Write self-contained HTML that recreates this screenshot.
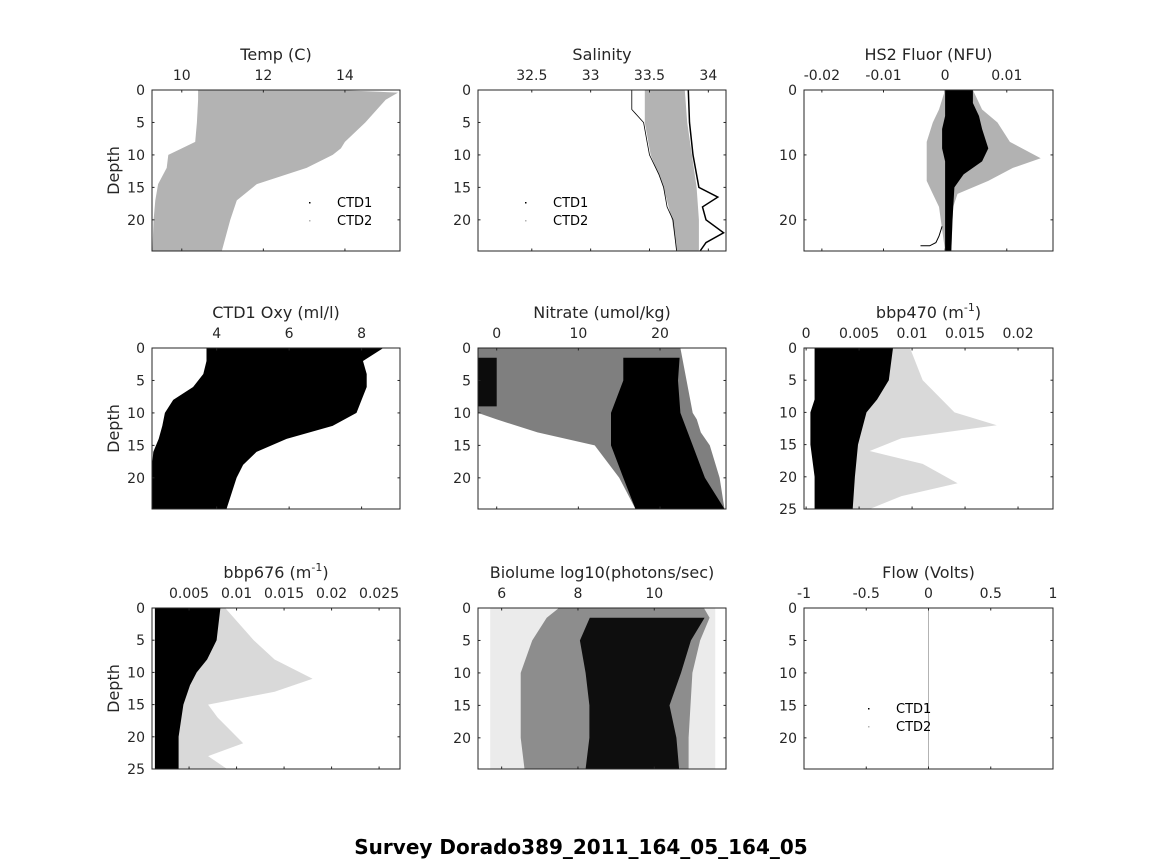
<!DOCTYPE html>
<html><head><meta charset="utf-8">
<style>
html,body{margin:0;padding:0;background:#fff;}
svg{display:block;font-family:"DejaVu Sans","Liberation Sans",sans-serif;}
</style></head>
<body>
<svg id="fig" width="1164" height="864" viewBox="0 0 1164 864" xmlns="http://www.w3.org/2000/svg">
<rect width="1164" height="864" fill="#fff"/>
<text x="581" y="854" text-anchor="middle" font-size="20" font-weight="bold" fill="#000">Survey Dorado389_2011_164_05_164_05</text>
</svg>
<script>
// ---- Data arrays (envelopes: depth, min value, max value) ----
const tempDepth = [0,0.4,1.5,5,8,9,10,12,14.5,17,20,24.8];
const tempMin   = [10.4,10.4,10.4,10.37,10.33,10.0,9.67,9.63,9.42,9.35,9.31,9.28];
const tempMax   = [13.8,15.3,15.0,14.5,14.0,13.9,13.7,13.06,11.84,11.35,11.19,10.98];

const salDepth = [0,5,10,15,20,24.8];
const salMin   = [33.46,33.46,33.51,33.62,33.69,33.73];
const salMax   = [33.80,33.82,33.86,33.90,33.92,33.92];
const salLineDepth = [0,5,10,15,16.5,18,20,22,23.5,24.8];
const salLineVal   = [33.83,33.84,33.87,33.92,34.08,33.95,33.98,34.13,33.98,33.93];
const salLeftDepth = [0,3,5,8,10,13,15,18,20,24.8];
const salLeftVal   = [33.35,33.35,33.45,33.48,33.5,33.58,33.62,33.65,33.7,33.73];

const fluDepth = [0,2,4,6,9,11,13,15,20,24.8];
const fluMin   = [0,0,0,-0.0005,-0.0005,0,0,0,0,0];
const fluMax   = [0.0045,0.0045,0.0055,0.006,0.007,0.006,0.003,0.0015,0.0012,0.001];
const fluSparseDepth = [0,3,5,8,10.5,12,14,16,18,24.8];
const fluSparseMin   = [0,-0.001,-0.002,-0.003,-0.003,-0.003,-0.003,-0.002,-0.001,0];
const fluSparseMax   = [0.0045,0.006,0.0085,0.0105,0.0155,0.011,0.007,0.002,0.0013,0.001];
const fluLineDepth = [21,22.5,23.5,24,24];
const fluLineVal   = [-0.0005,-0.001,-0.0015,-0.0025,-0.004];

const oxyDepth = [0,2,4,6,8,10,12,14,16,18,20,24.8];
const oxyMin   = [3.72,3.72,3.63,3.35,2.8,2.57,2.5,2.4,2.25,2.22,2.22,2.22];
const oxyMax   = [8.6,8.04,8.14,8.14,8.0,7.86,7.2,5.93,5.1,4.73,4.55,4.27];

const nitSparseDepth = [0,10,11,13,15,20,24.8];
const nitSparseMin   = [-2.3,-2.3,0,5,12,15,17];
const nitSparseMax   = [22.5,24,24.5,25,26.1,27.3,27.9];
const nitDepth = [1.5,5,10,15,20,24.8];
const nitMin   = [15.5,15.5,14,14,15.5,17];
const nitMax   = [22.4,22.2,22.5,24,25.5,27.9];
const nitColDepth = [1.5,9];
const nitColMin   = [-2.3,-2.3];
const nitColMax   = [0,0];

const b470Depth = [0,5,8,10,15,20,25];
const b470Min   = [0.0008,0.0008,0.0008,0.0004,0.0004,0.0008,0.0008];
const b470Max   = [0.0082,0.0078,0.0067,0.0057,0.0049,0.0046,0.0044];
const b470SparseDepth = [0,5,10,12,14,16,18,21,23,25];
const b470SparseMax   = [0.0098,0.011,0.014,0.018,0.009,0.006,0.011,0.0143,0.009,0.006];

const b676Depth = [0,5,8,10,12,15,20,25];
const b676Min   = [0.0014,0.0014,0.0014,0.0014,0.0014,0.0014,0.0014,0.0014];
const b676Max   = [0.0083,0.0079,0.0069,0.0058,0.0051,0.0044,0.0039,0.0039];
const b676SparseDepth = [0,5,8,11,13,15,17,21,23,25];
const b676SparseMax   = [0.0088,0.0118,0.014,0.018,0.014,0.007,0.008,0.0107,0.007,0.009];

const bioDepth = [1.5,5,10,15,20,24.8];
const bioMin   = [8.31,8.05,8.2,8.3,8.3,8.2];
const bioMax   = [11.32,10.96,10.7,10.4,10.58,10.65];
const bioSparseDepth = [0,1.5,5,10,20,24.8];
const bioSparseMin   = [7.5,7.18,6.8,6.5,6.5,6.6];
const bioSparseMax   = [11.3,11.45,11.2,11.0,10.9,10.9];
const bioFaintDepth = [0,24.8];
const bioFaintMin   = [5.7,5.7];
const bioFaintMax   = [11.6,11.6];

const flowDepth = [0,24.8];
const flowVal   = [0,0];

// ---- drawing ----
const svg = document.getElementById('fig');
const NS = 'http://www.w3.org/2000/svg';
const C = '#262626';
function mk(tag, attrs, parent){
  const e = document.createElementNS(NS, tag);
  for (const k in attrs) e.setAttribute(k, attrs[k]);
  (parent||svg).appendChild(e);
  return e;
}
function panel(p){
  const g = mk('g', {});
  
  
  const sx = v => p.x0 + (v - p.xmin) / (p.xmax - p.xmin) * (p.x1 - p.x0);
  const sy = d => p.y0 + d / p.ymax * (p.y1 - p.y0);
  p.sx = sx; p.sy = sy; p.g = g;
  return p;
}
function envelope(p, depth, mn, mx, fill, op, nm){
  const pts = [];
  for (let i=0;i<depth.length;i++) pts.push(p.sx(mn[i]).toFixed(1)+','+p.sy(depth[i]).toFixed(1));
  for (let i=depth.length-1;i>=0;i--) pts.push(p.sx(mx[i]).toFixed(1)+','+p.sy(depth[i]).toFixed(1));
  const e = mk('polygon', {points: pts.join(' '), fill: fill, 'fill-opacity': op}, p.g);
  
  
}
function line(p, depth, val, stroke, w, nm){
  const pts = depth.map((d,i)=>p.sx(val[i]).toFixed(1)+','+p.sy(d).toFixed(1));
  const e = mk('polyline', {points: pts.join(' '), fill:'none', stroke: stroke, 'stroke-width': w}, p.g);
  
  
}
function axes(p){
  const g = p.g;
  const box = mk('rect', {x:p.x0, y:p.y0, width:p.x1-p.x0, height:p.y1-p.y0, fill:'none', stroke:C, 'stroke-width':1}, g);
  
  
  p.xticks.forEach((v,i)=>{
    const x = p.sx(v);
    mk('line', {x1:x, x2:x, y1:p.y0, y2:p.y0+2.5, stroke:C}, g);
    mk('line', {x1:x, x2:x, y1:p.y1, y2:p.y1-2.5, stroke:C}, g);
    const t = mk('text', {x:x, y:p.y0-10, 'text-anchor':'middle', 'font-size':14, fill:C}, g);
    t.textContent = p.xlabels[i];
    
    
  });
  p.yticks.forEach(v=>{
    const y = p.sy(v);
    mk('line', {x1:p.x0, x2:p.x0+2.5, y1:y, y2:y, stroke:C}, g);
    mk('line', {x1:p.x1, x2:p.x1-2.5, y1:y, y2:y, stroke:C}, g);
    const t = mk('text', {x:p.x0-7, y:y+5, 'text-anchor':'end', 'font-size':14, fill:C}, g);
    t.textContent = String(v);
    
    
  });
  const t = mk('text', {x:(p.x0+p.x1)/2, y:p.y0-30, 'text-anchor':'middle', 'font-size':16, fill:C}, g);
  if (p.sup){
    t.textContent = p.title;
    const ts = mk('tspan', {'font-size':11, dy:-7}, t); ts.textContent = '-1';
    const te = mk('tspan', {dy:7}, t); te.textContent = ')';
  } else t.textContent = p.title;
  
  
  if (p.depthLabel){
    const cy = (p.y0+p.y1)/2;
    const d = mk('text', {x:0, y:0, 'text-anchor':'middle', 'font-size':16, fill:C, transform:'translate(119,'+cy+') rotate(-90)'}, g);
    d.textContent = 'Depth';
    
    
  }
}
function legend(p, lx, ly){
  const names = ['CTD1','CTD2'];
  const cols = ['#000','#b3b3b3'];
  names.forEach((n,i)=>{
    const y = ly + i*18;
    mk('rect', {x:lx-28, y:y-5, width:1.5, height:1.5, fill:cols[i]}, p.g);
    const t = mk('text', {x:lx, y:y, 'font-size':13, fill:'#000'}, p.g);
    t.textContent = n;
    
    
  });
}
const GR = '#b3b3b3';
const r1 = [90,251], r2 = [348,509], r3 = [608,769];
const c1 = [152,400], c2 = [478,726], c3 = [804,1053];

// Temp
let p = panel({name:'temp', x0:c1[0], x1:c1[1], y0:r1[0], y1:r1[1], xmin:9.27, xmax:15.35, ymax:24.8,
  xticks:[10,12,14], xlabels:['10','12','14'], yticks:[0,5,10,15,20], title:'Temp (C)', depthLabel:true});
envelope(p, tempDepth, tempMin, tempMax, GR, 1, 'temp-ctd2-cloud');
axes(p); legend(p, 337, 207);

// Salinity
p = panel({name:'salinity', x0:c2[0], x1:c2[1], y0:r1[0], y1:r1[1], xmin:32.043, xmax:34.15, ymax:24.8,
  xticks:[32.5,33,33.5,34], xlabels:['32.5','33','33.5','34'], yticks:[0,5,10,15,20], title:'Salinity'});
envelope(p, salDepth, salMin, salMax, GR, 1, 'salinity-ctd2-cloud');
line(p, salLineDepth, salLineVal, '#000', 1.5, 'salinity-ctd1-right-line');
line(p, salLeftDepth, salLeftVal, '#000', 0.8, 'salinity-ctd1-left-line');
axes(p); legend(p, 553, 207);

// HS2 Fluor
p = panel({name:'fluor', x0:c3[0], x1:c3[1], y0:r1[0], y1:r1[1], xmin:-0.0229, xmax:0.0175, ymax:24.8,
  xticks:[-0.02,-0.01,0,0.01], xlabels:['-0.02','-0.01','0','0.01'], yticks:[0,10,20], title:'HS2 Fluor (NFU)'});
envelope(p, fluSparseDepth, fluSparseMin, fluSparseMax, '#000', 0.3, 'fluor-sparse-cloud');
envelope(p, fluDepth, fluMin, fluMax, '#000', 1, 'fluor-dense-cloud');
line(p, fluLineDepth, fluLineVal, '#000', 1, 'fluor-bottom-trace');
axes(p);

// Oxygen
p = panel({name:'oxygen', x0:c1[0], x1:c1[1], y0:r2[0], y1:r2[1], xmin:2.215, xmax:9.06, ymax:24.8,
  xticks:[4,6,8], xlabels:['4','6','8'], yticks:[0,5,10,15,20], title:'CTD1 Oxy (ml/l)', depthLabel:true});
envelope(p, oxyDepth, oxyMin, oxyMax, '#000', 1, 'oxygen-cloud');
axes(p);

// Nitrate
p = panel({name:'nitrate', x0:c2[0], x1:c2[1], y0:r2[0], y1:r2[1], xmin:-2.29, xmax:28.08, ymax:24.8,
  xticks:[0,10,20], xlabels:['0','10','20'], yticks:[0,5,10,15,20], title:'Nitrate (umol/kg)'});
envelope(p, nitSparseDepth, nitSparseMin, nitSparseMax, '#000', 0.5, 'nitrate-sparse-cloud');
envelope(p, nitDepth, nitMin, nitMax, '#000', 1, 'nitrate-dense-cloud');
envelope(p, nitColDepth, nitColMin, nitColMax, '#000', 0.9, 'nitrate-left-column');
axes(p);

// bbp470
p = panel({name:'bbp470', x0:c3[0], x1:c3[1], y0:r2[0], y1:r2[1], xmin:-0.0002, xmax:0.0233, ymax:25,
  xticks:[0,0.005,0.01,0.015,0.02], xlabels:['0','0.005','0.01','0.015','0.02'], yticks:[0,5,10,15,20,25], title:'bbp470 (m', sup:true});
envelope(p, b470SparseDepth, b470SparseDepth.map(()=>b470Min[0]), b470SparseMax, '#000', 0.15, 'bbp470-sparse-cloud');
envelope(p, b470Depth, b470Min, b470Max, '#000', 1, 'bbp470-dense-cloud');
axes(p);

// bbp676
p = panel({name:'bbp676', x0:c1[0], x1:c1[1], y0:r3[0], y1:r3[1], xmin:0.0011, xmax:0.0272, ymax:25,
  xticks:[0.005,0.01,0.015,0.02,0.025], xlabels:['0.005','0.01','0.015','0.02','0.025'], yticks:[0,5,10,15,20,25], title:'bbp676 (m', sup:true, depthLabel:true});
envelope(p, b676SparseDepth, b676SparseDepth.map(()=>b676Min[0]), b676SparseMax, '#000', 0.15, 'bbp676-sparse-cloud');
envelope(p, b676Depth, b676Min, b676Max, '#000', 1, 'bbp676-dense-cloud');
axes(p);

// Biolume
p = panel({name:'biolume', x0:c2[0], x1:c2[1], y0:r3[0], y1:r3[1], xmin:5.38, xmax:11.88, ymax:24.8,
  xticks:[6,8,10], xlabels:['6','8','10'], yticks:[0,5,10,15,20], title:'Biolume log10(photons/sec)'});
envelope(p, bioFaintDepth, bioFaintMin, bioFaintMax, '#000', 0.08, 'biolume-faint-cloud');
envelope(p, bioSparseDepth, bioSparseMin, bioSparseMax, '#000', 0.4, 'biolume-sparse-cloud');
envelope(p, bioDepth, bioMin, bioMax, '#000', 0.9, 'biolume-dense-cloud');
axes(p);

// Flow
p = panel({name:'flow', x0:c3[0], x1:c3[1], y0:r3[0], y1:r3[1], xmin:-1, xmax:1, ymax:24.8,
  xticks:[-1,-0.5,0,0.5,1], xlabels:['-1','-0.5','0','0.5','1'], yticks:[0,5,10,15,20], title:'Flow (Volts)'});
line(p, flowDepth, flowVal, GR, 1, 'flow-ctd2-line');
axes(p); legend(p, 896, 713);
</script>
</body></html>
